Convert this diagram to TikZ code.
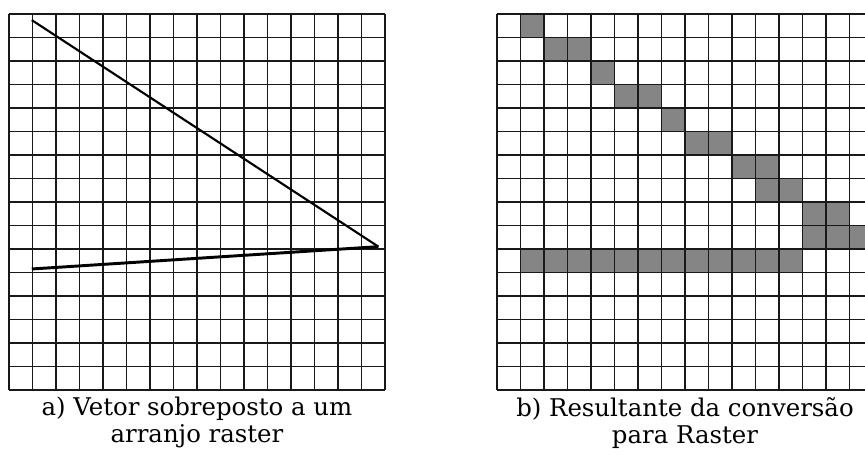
\documentclass[tikz,border=0pt]{standalone}
\usepackage{tikz}
\usepackage{fontspec}
\newfontfamily\capfont{DejaVu Serif}

\tikzset{
    gridline/.style={line width=1.3pt, black!90},
    rastercell/.style={fill=black!48},
    vectorline/.style={line width=1.6pt, black},
    caption/.style={font=\capfont\fontsize{18.3}{20.25}\selectfont, align=center, inner sep=0pt, anchor=north}
}

\begin{document}
\begin{tikzpicture}[x=0.75pt, y=-0.75pt]
    \clip (0,0) rectangle (865,457);
    \fill[white] (0,0) rectangle (865,457);

    % a) vector laid over the raster grid
    \begin{scope}[shift={(9,14)}, x=17.625pt, y=-17.625pt]
        \foreach \i in {0,...,16} {
            \draw[gridline] (\i,0) -- (\i,16);
            \draw[gridline] (0,\i) -- (16,\i);
        }
        % Vector end points
        \coordinate (vtop) at (0.97,0.26);
        \coordinate (vapex) at (15.72,9.9);
        \coordinate (vbase) at (0.97,10.85);
        \draw[vectorline] (vtop) -- (vapex);
        \draw[vectorline, line width=2.2pt] (vbase) -- (vapex);
        \node[caption] (capA) at (8,16.3) {a) Vetor sobreposto a um\\arranjo raster};
    \end{scope}

    % b) result of the raster conversion
    \begin{scope}[shift={(497,14)}, x=17.625pt, y=-17.625pt]
        \foreach \c/\r in {1/0, 2/1, 3/1, 4/2, 5/3, 6/3, 7/4, 8/5, 9/5,
                           10/6, 11/6, 11/7, 12/7, 13/8, 14/8, 13/9, 14/9, 15/9} {
            \fill[rastercell] (\c,\r) rectangle ++(1,1);
        }
        \fill[rastercell] (1,10) rectangle (13,11);
        \foreach \i in {0,...,16} {
            \draw[gridline] (\i,0) -- (\i,16);
            \draw[gridline] (0,\i) -- (16,\i);
        }
        \node[caption] (capB) at (8,16.3) {b) Resultante da conversão\\para Raster};
    \end{scope}
\end{tikzpicture}
\end{document}
